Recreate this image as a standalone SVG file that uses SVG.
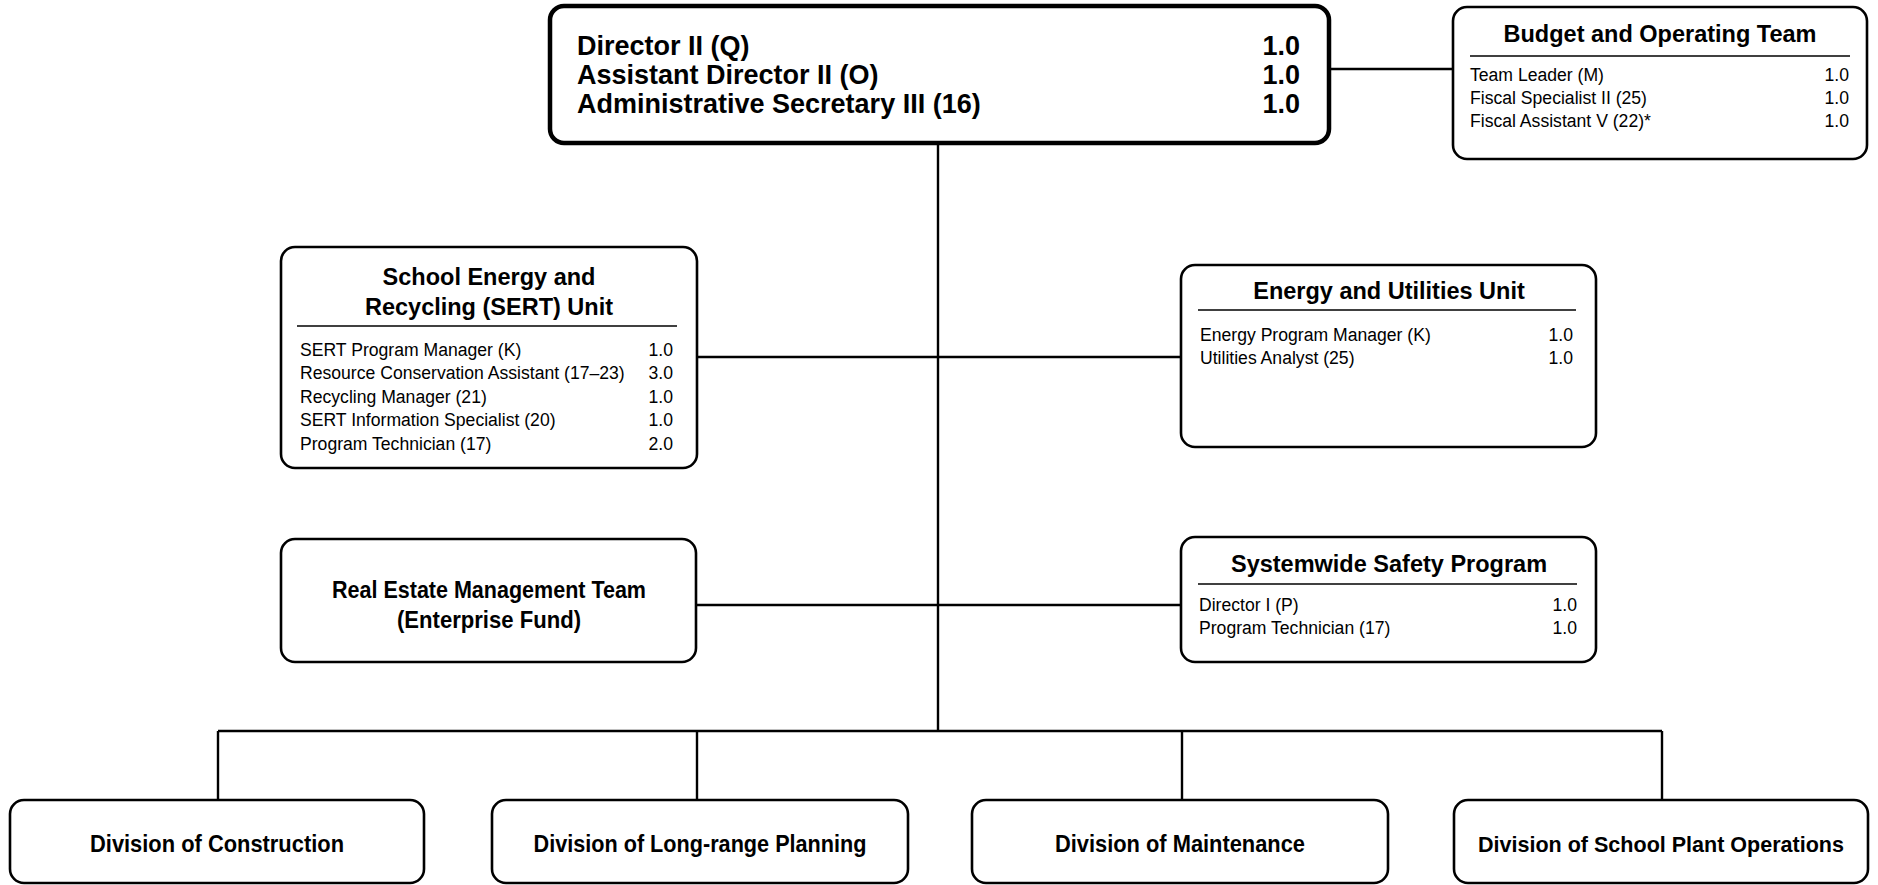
<svg xmlns="http://www.w3.org/2000/svg" width="1878" height="885" viewBox="0 0 1878 885">
<style>
.box{fill:#fff;stroke:#000;stroke-width:2.6}
.main{fill:#fff;stroke:#000;stroke-width:4.5}
.sep{stroke:#000;stroke-width:1.6}
.con{stroke:#000;stroke-width:2.4;fill:none}
text{font-family:"Liberation Sans",Arial,sans-serif;fill:#000}
.big{font-size:27px;font-weight:bold}
.ttl{font-size:23.5px;font-weight:bold;text-anchor:middle}
.lbl{font-size:24px;font-weight:bold;text-anchor:middle}
.row{font-size:17.6px}
.val{font-size:17.6px;text-anchor:end}
</style>
<rect width="1878" height="885" fill="#fff"/>
<g id="connectors">
<path class="con" d="M1329 69H1453"/>
<path class="con" d="M938 143V731"/>
<path class="con" d="M697 357H1181"/>
<path class="con" d="M696 605H1181"/>
<path class="con" d="M218 731H1662"/>
<path class="con" d="M218 731V800M697 731V800M1182 731V800M1662 731V800"/>
</g>
<g id="director">
<rect class="main" x="550" y="6" width="779" height="137" rx="14"/>
<text class="big" x="577" y="55">Director II (Q)</text>
<text class="big" x="577" y="83.5">Assistant Director II (O)</text>
<text class="big" x="577" y="113">Administrative Secretary III (16)</text>
<text class="big" x="1300" y="55" text-anchor="end">1.0</text>
<text class="big" x="1300" y="83.5" text-anchor="end">1.0</text>
<text class="big" x="1300" y="113" text-anchor="end">1.0</text>
</g>
<g id="budget">
<rect class="box" x="1453" y="7" width="414" height="152" rx="14"/>
<text class="ttl" x="1660" y="42">Budget and Operating Team</text>
<line class="sep" x1="1470" y1="56" x2="1850" y2="56"/>
<text class="row" x="1470" y="81">Team Leader (M)</text>
<text class="row" x="1470" y="104">Fiscal Specialist II (25)</text>
<text class="row" x="1470" y="127">Fiscal Assistant V (22)*</text>
<text class="val" x="1849" y="81">1.0</text>
<text class="val" x="1849" y="104">1.0</text>
<text class="val" x="1849" y="127">1.0</text>
</g>
<g id="sert">
<rect class="box" x="281" y="247" width="416" height="221" rx="14"/>
<text class="ttl" x="489" y="285">School Energy and</text>
<text class="ttl" x="489" y="315">Recycling (SERT) Unit</text>
<line class="sep" x1="297" y1="326" x2="677" y2="326"/>
<text class="row" x="300" y="355.5">SERT Program Manager (K)</text>
<text class="row" x="300" y="379">Resource Conservation Assistant (17–23)</text>
<text class="row" x="300" y="402.5">Recycling Manager (21)</text>
<text class="row" x="300" y="426">SERT Information Specialist (20)</text>
<text class="row" x="300" y="449.5">Program Technician (17)</text>
<text class="val" x="673" y="355.5">1.0</text>
<text class="val" x="673" y="379">3.0</text>
<text class="val" x="673" y="402.5">1.0</text>
<text class="val" x="673" y="426">1.0</text>
<text class="val" x="673" y="449.5">2.0</text>
</g>
<g id="energy">
<rect class="box" x="1181" y="265" width="415" height="182" rx="14"/>
<text class="ttl" x="1389" y="299">Energy and Utilities Unit</text>
<line class="sep" x1="1198" y1="310" x2="1576" y2="310"/>
<text class="row" x="1200" y="341">Energy Program Manager (K)</text>
<text class="row" x="1200" y="364">Utilities Analyst (25)</text>
<text class="val" x="1573" y="341">1.0</text>
<text class="val" x="1573" y="364">1.0</text>
</g>
<g id="realestate">
<rect class="box" x="281" y="539" width="415" height="123" rx="14"/>
<text class="lbl" x="489" y="598" textLength="314" lengthAdjust="spacingAndGlyphs">Real Estate Management Team</text>
<text class="lbl" x="489" y="628" textLength="184" lengthAdjust="spacingAndGlyphs">(Enterprise Fund)</text>
</g>
<g id="safety">
<rect class="box" x="1181" y="537" width="415" height="125" rx="14"/>
<text class="ttl" x="1389" y="572">Systemwide Safety Program</text>
<line class="sep" x1="1198" y1="584" x2="1577" y2="584"/>
<text class="row" x="1199" y="611">Director I (P)</text>
<text class="row" x="1199" y="634">Program Technician (17)</text>
<text class="val" x="1577" y="611">1.0</text>
<text class="val" x="1577" y="634">1.0</text>
</g>
<g id="construction">
<rect class="box" x="10" y="800" width="414" height="83" rx="14"/>
<text class="lbl" x="217" y="852" textLength="254" lengthAdjust="spacingAndGlyphs">Division of Construction</text>
</g>
<g id="planning">
<rect class="box" x="492" y="800" width="416" height="83" rx="14"/>
<text class="lbl" x="700" y="852" textLength="333" lengthAdjust="spacingAndGlyphs">Division of Long-range Planning</text>
</g>
<g id="maintenance">
<rect class="box" x="972" y="800" width="416" height="83" rx="14"/>
<text class="lbl" x="1180" y="852" textLength="250" lengthAdjust="spacingAndGlyphs">Division of Maintenance</text>
</g>
<g id="operations">
<rect class="box" x="1454" y="800" width="414" height="83" rx="14"/>
<text class="lbl" x="1661" y="852" style="font-size:22px" textLength="366" lengthAdjust="spacingAndGlyphs">Division of School Plant Operations</text>
</g>
</svg>
